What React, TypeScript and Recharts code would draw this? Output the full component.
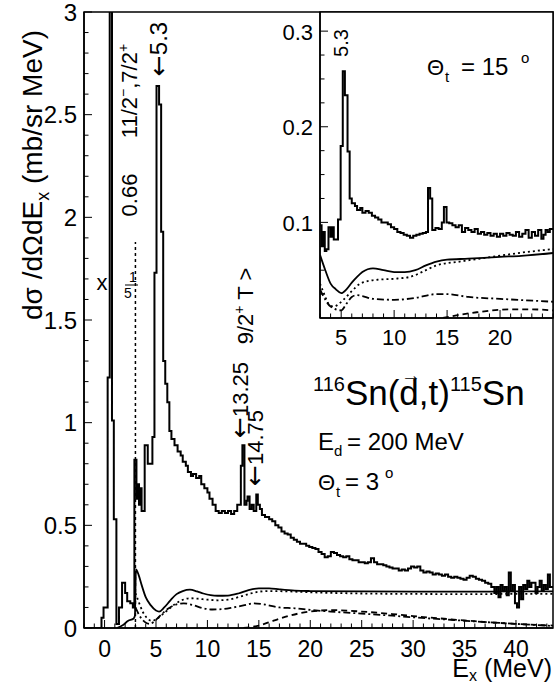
import React from "react";
import {
  ComposedChart,
  Line,
  XAxis,
  YAxis,
  ReferenceLine,
  ReferenceArea,
} from "recharts";

const FONT = '"Liberation Sans", Arial, Helvetica, sans-serif';
const ARROW_FONT = '"DejaVu Sans", sans-serif';
const W = 555;
const H = 685;

// theta = 3 deg spectrum: [left bin edge (MeV), dsigma/dOmega dE (mb/sr MeV)]
const spectrum3: number[][] = [
  [-2, 0], [-0.3, 0.05], [-0.1, 0.1], [0.3, 1.22], [0.5, 3.4], [0.72, 1.01],
  [0.9, 0.53], [1.15, 0.02], [1.4, 0.1], [1.7, 0.22], [2.0, 0.17], [2.2, 0.13],
  [2.5, 0.12], [2.75, 0.1], [2.9, 0.82], [3.1, 0.63], [3.2, 0.7], [3.35, 0.6],
  [3.5, 0.68], [3.6, 0.57], [3.9, 0.89], [4.2, 0.8], [4.65, 0.93], [4.85, 1.73],
  [5.05, 2.64], [5.3, 2.55], [5.5, 1.93], [5.7, 1.3], [5.9, 1.19], [6.1, 1.1],
  [6.3, 0.96], [6.5, 0.92], [6.8, 0.89], [7.1, 0.86], [7.4, 0.84], [7.6, 0.81],
  [7.9, 0.79], [8.1, 0.76], [8.4, 0.74], [8.6, 0.75], [8.9, 0.73], [9.2, 0.74],
  [9.4, 0.7], [9.7, 0.68], [10.0, 0.66], [10.2, 0.63], [10.5, 0.6], [10.8, 0.57],
  [11.1, 0.56], [11.4, 0.57], [11.7, 0.56], [12.0, 0.57], [12.3, 0.555], [12.6, 0.57],
  [12.9, 0.6], [13.1, 0.6], [13.25, 0.79], [13.4, 0.89], [13.6, 0.6], [13.8, 0.62],
  [13.9, 0.64], [14.1, 0.58], [14.3, 0.6], [14.5, 0.57], [14.75, 0.65], [14.9, 0.6],
  [15.1, 0.58], [15.3, 0.55], [15.6, 0.54], [16.0, 0.53], [16.3, 0.52], [16.6, 0.5],
  [16.9, 0.49], [17.2, 0.47], [17.5, 0.46], [17.8, 0.455], [18.1, 0.44], [18.4, 0.43],
  [18.7, 0.42], [19.0, 0.41], [19.3, 0.41], [19.6, 0.4], [19.9, 0.395], [20.2, 0.39],
  [20.5, 0.385], [20.8, 0.37], [21.1, 0.36], [21.4, 0.345], [21.7, 0.35], [22.0, 0.37],
  [22.3, 0.365], [22.6, 0.355], [22.9, 0.35], [23.2, 0.345], [23.5, 0.35], [23.8, 0.335],
  [24.1, 0.33], [24.4, 0.33], [24.7, 0.32], [25.0, 0.32], [25.3, 0.315], [25.6, 0.32],
  [25.9, 0.34], [26.2, 0.32], [26.5, 0.31], [26.8, 0.31], [27.1, 0.305], [27.4, 0.3],
  [27.7, 0.295], [28.0, 0.29], [28.3, 0.29], [28.6, 0.28], [28.9, 0.285], [29.2, 0.28],
  [29.5, 0.29], [29.8, 0.3], [30.1, 0.295], [30.4, 0.3], [30.7, 0.28], [31.0, 0.27],
  [31.3, 0.275], [31.6, 0.27], [31.9, 0.26], [32.2, 0.265], [32.5, 0.26], [32.8, 0.255],
  [33.1, 0.26], [33.4, 0.25], [33.7, 0.245], [34.0, 0.25], [34.3, 0.245], [34.6, 0.24],
  [34.9, 0.235], [35.2, 0.245], [35.5, 0.255], [35.8, 0.25], [36.1, 0.24], [36.4, 0.235],
  [36.7, 0.23], [37.0, 0.22], [37.3, 0.215], [37.6, 0.2], [37.9, 0.17], [38.1, 0.2],
  [38.3, 0.15], [38.5, 0.21], [38.7, 0.18], [38.9, 0.2], [39.1, 0.16], [39.3, 0.27],
  [39.5, 0.18], [39.7, 0.21], [39.9, 0.12], [40.1, 0.1], [40.3, 0.2], [40.5, 0.14],
  [40.7, 0.21], [40.9, 0.19], [41.1, 0.23], [41.3, 0.2], [41.5, 0.22], [41.7, 0.22],
  [41.9, 0.17], [42.1, 0.2], [42.3, 0.23], [42.5, 0.18], [42.7, 0.21], [42.9, 0.19],
  [43.1, 0.26], [43.3, 0.2], [43.6, 0.2],
];

// theta = 3 deg calculated curves: [Ex, value]
const total3: number[][] = [
  [1.2, 0], [1.8, 0.015], [2.3, 0.035], [2.8, 0.045], [2.95, 0.06], [3.05, 0.285],
  [3.3, 0.26], [3.6, 0.21], [4.0, 0.15], [4.5, 0.11], [5.0, 0.085], [5.3, 0.08],
  [5.8, 0.1], [6.4, 0.135], [7.0, 0.165], [7.6, 0.18], [8.3, 0.187], [9.0, 0.178],
  [9.6, 0.168], [10.3, 0.16], [11, 0.157], [12, 0.158], [13, 0.168], [14, 0.185],
  [15, 0.193], [16, 0.193], [17, 0.188], [18.5, 0.182], [20, 0.18], [25, 0.178],
  [30, 0.177], [35, 0.177], [40, 0.178], [43.6, 0.178],
];
const dotted3: number[][] = [
  [3.0, 0.17], [3.3, 0.13], [3.7, 0.08], [4.1, 0.05], [4.6, 0.035], [5.1, 0.045],
  [5.6, 0.065], [6.2, 0.09], [6.8, 0.115], [7.5, 0.135], [8.3, 0.145], [9.0, 0.143],
  [10, 0.138], [11, 0.135], [12, 0.138], [13, 0.15], [14, 0.165], [15, 0.177],
  [16, 0.18], [18, 0.178], [20, 0.174], [25, 0.168], [30, 0.166], [35, 0.165],
  [40, 0.166], [43.6, 0.166],
];
const dashDot3: number[][] = [
  [3.0, 0.1], [3.4, 0.06], [3.9, 0.03], [4.4, 0.02], [5.0, 0.04], [5.6, 0.07],
  [6.2, 0.095], [7.0, 0.115], [7.7, 0.12], [8.5, 0.113], [9.5, 0.097], [10.5, 0.09],
  [11.5, 0.092], [12.5, 0.1], [13.5, 0.11], [14.5, 0.12], [15.5, 0.115], [17, 0.1],
  [18.5, 0.096], [20, 0.088], [22, 0.08], [25, 0.07], [28, 0.06], [30, 0.052],
  [33, 0.042], [36, 0.032], [40, 0.02], [43.6, 0.01],
];
const dashed3: number[][] = [
  [13.5, 0], [15, 0.012], [16, 0.028], [17, 0.045], [18, 0.06], [19, 0.072],
  [20, 0.08], [21, 0.085], [22, 0.087], [23, 0.086], [25, 0.08], [28, 0.068],
  [30, 0.058], [33, 0.045], [36, 0.033], [40, 0.02], [43.6, 0.012],
];

// theta = 15 deg (inset)
const spectrum15: number[][] = [
  [3.0, 0.097], [3.15, 0.075], [3.3, 0.09], [3.45, 0.07], [3.6, 0.072], [3.8, 0.095],
  [4.0, 0.085], [4.15, 0.095], [4.3, 0.082], [4.7, 0.103], [4.95, 0.18], [5.15, 0.258],
  [5.35, 0.233], [5.6, 0.174], [5.8, 0.125], [6.0, 0.12], [6.3, 0.117], [6.5, 0.113],
  [6.8, 0.115], [7.0, 0.11], [7.3, 0.112], [7.6, 0.11], [7.9, 0.107], [8.2, 0.105],
  [8.5, 0.103], [8.8, 0.1], [9.1, 0.1], [9.4, 0.098], [9.7, 0.095], [10.0, 0.093],
  [10.3, 0.09], [10.6, 0.089], [10.9, 0.087], [11.2, 0.086], [11.5, 0.084], [11.8, 0.086],
  [12.1, 0.087], [12.4, 0.088], [12.7, 0.089], [13.0, 0.09], [13.2, 0.136], [13.4, 0.125],
  [13.6, 0.092], [13.9, 0.094], [14.2, 0.093], [14.5, 0.1], [14.7, 0.116], [14.95, 0.1],
  [15.2, 0.099], [15.5, 0.097], [15.8, 0.095], [16.1, 0.097], [16.4, 0.09], [16.7, 0.094],
  [17.0, 0.092], [17.3, 0.09], [17.6, 0.093], [17.9, 0.088], [18.2, 0.09], [18.5, 0.087],
  [18.8, 0.089], [19.1, 0.086], [19.4, 0.088], [19.7, 0.085], [20.0, 0.088], [20.3, 0.086],
  [20.6, 0.089], [20.9, 0.087], [21.2, 0.086], [21.5, 0.09], [21.8, 0.085], [22.1, 0.088],
  [22.4, 0.092], [22.7, 0.084], [23.0, 0.09], [23.3, 0.086], [23.6, 0.092], [23.9, 0.083],
  [24.1, 0.087], [24.3, 0.092], [24.5, 0.09], [24.7, 0.093], [25.0, 0.093],
];
const total15: number[][] = [
  [3, 0.066], [3.5, 0.05], [4, 0.036], [4.5, 0.03], [5, 0.026], [5.5, 0.03],
  [6, 0.037], [6.5, 0.043], [7, 0.048], [7.5, 0.051], [8, 0.052], [9, 0.05],
  [10, 0.048], [11, 0.048], [12, 0.05], [13, 0.055], [14, 0.059], [15, 0.061],
  [17, 0.062], [20, 0.064], [22, 0.065], [25, 0.068],
];
const dotted15: number[][] = [
  [3, 0.036], [3.4, 0.025], [3.8, 0.015], [4.3, 0.012], [4.8, 0.015], [5.2, 0.019],
  [6, 0.028], [6.8, 0.036], [8.4, 0.04], [10, 0.041], [11.5, 0.043], [13, 0.05],
  [14, 0.055], [16.2, 0.059], [19.3, 0.064], [22.5, 0.069], [25, 0.072],
];
const dashDot15: number[][] = [
  [3, 0.03], [4, 0.012], [5, 0.008], [5.5, 0.015], [6, 0.022], [6.5, 0.024],
  [7, 0.023], [8, 0.02], [10, 0.019], [12, 0.021], [14, 0.025], [15, 0.025],
  [17, 0.022], [20, 0.02], [25, 0.017],
];
const dashed15: number[][] = [
  [14.6, 0], [16, 0.003], [17.8, 0.006], [20.9, 0.009], [23, 0.009], [25, 0.008],
];

const mainXLabels = [0, 5, 10, 15, 20, 25, 30, 35, 40];
const mainYLabels = [0, 0.5, 1, 1.5, 2, 2.5, 3];
const insetXLabels = [5, 10, 15, 20];
const insetYLabels = [0.1, 0.2, 0.3];

const mainXTicks = Array.from({ length: 46 }, (_, i) => i - 2);
const mainYTicks = Array.from({ length: 31 }, (_, i) => i / 10);
const insetXTicks = Array.from({ length: 23 }, (_, i) => i + 3);
const insetYTicks = Array.from({ length: 12 }, (_, i) => (i + 1) / 40);

const rows = (pts: number[][]) => pts.map(([x, y]) => ({ x, y }));
const isIn = (list: number[], v: number) => list.some((l) => Math.abs(l - v) < 1e-6);

function xTick(labels: number[], labelDy: number, fs: number) {
  return (p: any) => {
    const v = p.payload.value;
    const lab = isIn(labels, v);
    return (
      <g>
        <line x1={p.x} x2={p.x} y1={p.y} y2={p.y - (lab ? 8 : 4.5)} stroke="#000" strokeWidth={1} />
        {lab && (
          <text x={p.x} y={p.y + labelDy} textAnchor="middle" fontSize={fs} fontFamily={FONT} fill="#000">
            {String(v)}
          </text>
        )}
      </g>
    );
  };
}

function yTick(labels: number[], fs: number) {
  return (p: any) => {
    const v = p.payload.value;
    const lab = isIn(labels, v);
    return (
      <g>
        <line x1={p.x} x2={p.x + (lab ? 8 : 4.5)} y1={p.y} y2={p.y} stroke="#000" strokeWidth={1} />
        {lab && (
          <text x={p.x - 7} y={p.y + 8.5} textAnchor="end" fontSize={fs} fontFamily={FONT} fill="#000">
            {String(Math.round(v * 10) / 10)}
          </text>
        )}
      </g>
    );
  };
}

function VText({ x, y, fs, children }: { x: number; y: number; fs: number; children: React.ReactNode }) {
  return (
    <text x={x} y={y} fontSize={fs} textAnchor="middle" fontFamily={FONT} fill="#000"
      transform={`rotate(-90 ${x} ${y})`}>
      {children}
    </text>
  );
}

const Arrow = () => (
  <tspan fontFamily={ARROW_FONT} fontSize={25}>←</tspan>
);

const histStyle = { stroke: "#000", strokeWidth: 2 };

export default function App() {
  return (
    <div style={{ position: "fixed", left: 0, top: 0, width: W, height: H, background: "#fff" }}>
      <div style={{ position: "absolute", left: 0, top: 0 }}>
        <ComposedChart width={W} height={H} margin={{ top: 12, right: 2, bottom: 0, left: 0 }}>
          <XAxis dataKey="x" type="number" domain={[-2, 43.6]} allowDataOverflow ticks={mainXTicks}
            interval={0} height={57} tickSize={0} tickMargin={0} tickLine={false}
            axisLine={{ stroke: "#000", strokeWidth: 1.5 }} tick={xTick(mainXLabels, 29, 23)} />
          <YAxis type="number" domain={[0, 3]} allowDataOverflow ticks={mainYTicks} interval={0}
            width={84} tickSize={0} tickMargin={0} tickLine={false}
            axisLine={{ stroke: "#000", strokeWidth: 1.5 }} tick={yTick(mainYLabels, 24)} />
          <ReferenceArea x1={-2} x2={43.6} y1={0} y2={3} fill="none" stroke="#000" strokeWidth={1.5} />
          <ReferenceLine segment={[{ x: 3, y: 0 }, { x: 3, y: 1.88 }]} stroke="#000"
            strokeWidth={1.5} strokeDasharray="3 3" />
          <Line data={rows(dashed3)} dataKey="y" type="monotone" dot={false} isAnimationActive={false}
            stroke="#000" strokeWidth={1.8} strokeDasharray="6 4" />
          <Line data={rows(dashDot3)} dataKey="y" type="monotone" dot={false} isAnimationActive={false}
            stroke="#000" strokeWidth={1.8} strokeDasharray="7 3 2 3" />
          <Line data={rows(dotted3)} dataKey="y" type="monotone" dot={false} isAnimationActive={false}
            stroke="#000" strokeWidth={1.8} strokeDasharray="2 3" />
          <Line data={rows(total3)} dataKey="y" type="monotone" dot={false} isAnimationActive={false}
            stroke="#000" strokeWidth={1.8} />
          <Line data={rows(spectrum3)} dataKey="y" type="stepAfter" dot={false} isAnimationActive={false}
            {...histStyle} />
        </ComposedChart>
      </div>

      <div style={{ position: "absolute", left: 0, top: 0 }}>
        <ComposedChart width={W} height={H} margin={{ top: 12, right: 2, bottom: 0, left: 0 }}>
          <XAxis dataKey="x" type="number" domain={[3, 25]} allowDataOverflow ticks={insetXTicks}
            interval={0} height={367} tickSize={0} tickMargin={0} tickLine={false}
            axisLine={{ stroke: "#000", strokeWidth: 1.5 }} tick={xTick(insetXLabels, 27, 22)} />
          <YAxis type="number" domain={[0, 0.32]} allowDataOverflow ticks={insetYTicks} interval={0}
            width={320} tickSize={0} tickMargin={0} tickLine={false}
            axisLine={{ stroke: "#000", strokeWidth: 1.5 }} tick={yTick(insetYLabels, 22)} />
          <ReferenceArea x1={3} x2={25} y1={0} y2={0.32} fill="#fff" fillOpacity={1} stroke="#000" strokeWidth={1.5} />
          <Line data={rows(dashed15)} dataKey="y" type="monotone" dot={false} isAnimationActive={false}
            stroke="#000" strokeWidth={1.8} strokeDasharray="6 4" />
          <Line data={rows(dashDot15)} dataKey="y" type="monotone" dot={false} isAnimationActive={false}
            stroke="#000" strokeWidth={1.8} strokeDasharray="7 3 2 3" />
          <Line data={rows(dotted15)} dataKey="y" type="monotone" dot={false} isAnimationActive={false}
            stroke="#000" strokeWidth={1.8} strokeDasharray="2 3" />
          <Line data={rows(total15)} dataKey="y" type="monotone" dot={false} isAnimationActive={false}
            stroke="#000" strokeWidth={1.8} />
          <Line data={rows(spectrum15)} dataKey="y" type="stepAfter" dot={false} isAnimationActive={false}
            {...histStyle} />
        </ComposedChart>
      </div>

      <svg width={W} height={H} style={{ position: "absolute", left: 0, top: 0, pointerEvents: "none" }}>
        {/* axis titles */}
        <VText x={42} y={175} fs={28}>
          dσ /dΩdE<tspan fontSize={18} dy={7}>x</tspan><tspan dy={-7}> (mb/sr MeV)</tspan>
        </VText>
        <text x={552} y={677} textAnchor="end" fontSize={25} fontFamily={FONT} fill="#000">
          E<tspan fontSize={16} dy={4}>x</tspan><tspan dy={-4}> (MeV)</tspan>
        </text>

        {/* peak labels, 3 deg */}
        <VText x={137} y={195} fs={22}>0.66</VText>
        <VText x={137} y={91} fs={22}>
          11/2<tspan fontSize={14} dy={-9}>−</tspan><tspan dy={9}>,7/2</tspan><tspan fontSize={14} dy={-9}>+</tspan>
        </VText>
        <VText x={167} y={49} fs={24}><Arrow />5.3</VText>
        <VText x={253} y={306} fs={22}>
          9/2<tspan fontSize={14} dy={-9}>+</tspan><tspan dy={9}> T &gt;</tspan>
        </VText>
        <VText x={248} y={400} fs={22}><Arrow />13.25</VText>
        <VText x={263} y={448} fs={22}><Arrow />14.75</VText>
        <text x={102} y={290} textAnchor="middle" fontSize={22} fontFamily={FONT} fill="#000">x</text>
        <text x={133} y={282} textAnchor="middle" fontSize={14} fontFamily={FONT} fill="#000">1</text>
        <line x1={125} x2={138} y1={285} y2={285} stroke="#000" strokeWidth={1} />
        <text x={128} y={298} textAnchor="middle" fontSize={14} fontFamily={FONT} fill="#000">5</text>

        {/* reaction text */}
        <text x={313} y={405} fontSize={35} fontFamily={FONT} fill="#000">
          <tspan fontSize={20} dy={-14}>116</tspan><tspan dy={14}>Sn(d,t)</tspan>
          <tspan fontSize={20} dy={-14}>115</tspan><tspan dy={14}>Sn</tspan>
        </text>
        <text x={411} y={382} textAnchor="middle" fontSize={20} fontFamily={FONT} fill="#000">→</text>
        <text x={318} y={450} fontSize={24} fontFamily={FONT} fill="#000">
          E<tspan fontSize={15} dy={6} x={334}>d</tspan><tspan dy={-6} x={347}>= 200 MeV</tspan>
        </text>
        <text x={318} y={490} fontSize={22} fontFamily={FONT} fill="#000">
          Θ<tspan fontSize={15} dy={7} x={336}>t</tspan><tspan dy={-7} x={345} fontSize={24}>= 3</tspan>
          <tspan fontSize={15} dy={-12} x={385}>o</tspan>
        </text>

        {/* inset labels, 15 deg */}
        <VText x={348} y={43} fs={20}>5.3</VText>
        <text x={427} y={75} fontSize={22} fontFamily={FONT} fill="#000">
          Θ<tspan fontSize={15} dy={7} x={445}>t</tspan><tspan dy={-7} x={461} fontSize={24}>= 15</tspan>
          <tspan fontSize={15} dy={-12} x={521}>o</tspan>
        </text>
      </svg>
    </div>
  );
}
